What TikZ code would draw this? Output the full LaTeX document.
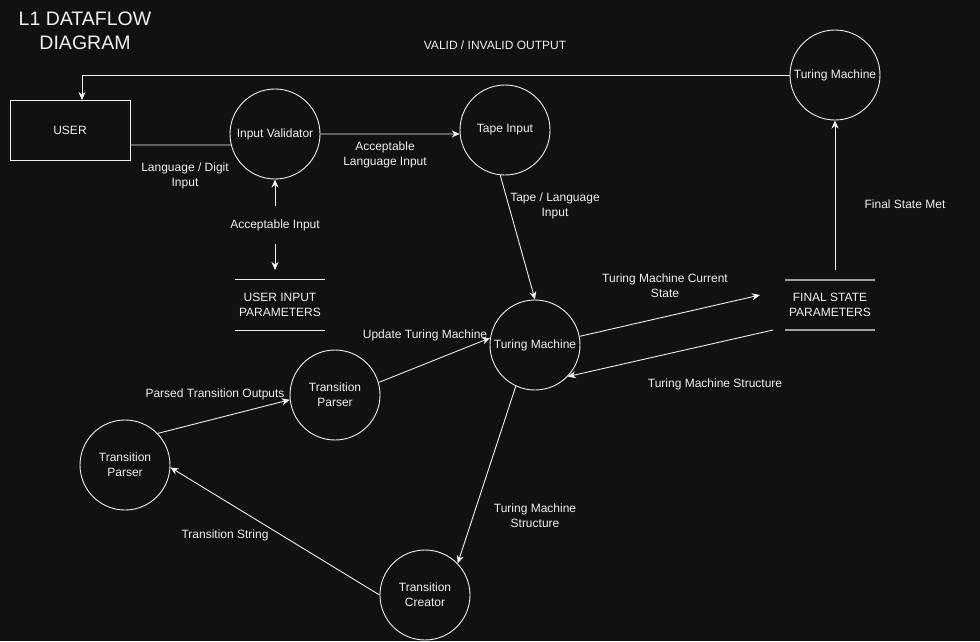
\documentclass[tikz,border=0pt]{standalone}
\usepackage{fontspec}
\setmainfont{Liberation Sans}
\usetikzlibrary{arrows.meta}
\definecolor{bg}{HTML}{111111}
\definecolor{fg}{HTML}{F0F0F0}
\definecolor{storegray}{HTML}{A0A0A0}
\begin{document}
\begin{tikzpicture}[x=1pt,y=-1pt,
  every node/.style={text=fg,font=\fontsize{12}{15}\selectfont,align=center},
  proc/.style={circle,draw=fg,line width=0.9pt,minimum size=90pt,inner sep=0pt},
  ent/.style={rectangle,draw=fg,line width=0.9pt,minimum width=120pt,minimum height=60pt,inner sep=0pt},
  store/.style={rectangle,minimum width=90pt,minimum height=50pt,inner sep=0pt},
  flow/.style={draw=fg,line width=0.9pt,-{Stealth[length=8pt,width=7pt,inset=2.5pt]}},
  plain/.style={draw=fg,line width=0.9pt},
  lbl/.style={inner sep=1pt}]
\fill[bg] (0,0) rectangle (980,641);
\useasboundingbox (0,0) rectangle (980,641);

% title
\node[font=\fontsize{19.5}{24}\selectfont] (title) at (85,31) {L1 DATAFLOW\\DIAGRAM};

% entities and processes
\node[ent] (user) at (70,130) {USER};
\node[proc] (iv) at (275,134) {Input Validator};
\node[proc] (tape) at (505,130) {Tape Input};
\node[proc] (tm) at (535,345) {Turing Machine};
\node[proc] (tm2) at (835,75) {Turing Machine};
\node[proc] (tp1) at (335,395) {Transition\\Parser};
\node[proc] (tp2) at (125,465) {Transition\\Parser};
\node[proc] (tc) at (425,595) {Transition\\Creator};

% data stores
\node[store] (uip) at (280,305) {USER INPUT\\PARAMETERS};
\draw[fg,line width=0.9pt] (uip.north west) -- (uip.north east);
\draw[fg,line width=0.9pt] (uip.south west) -- (uip.south east);
\node[store] (fsp) at (830,305) {FINAL STATE\\PARAMETERS};
\draw[storegray,line width=1.8pt] (fsp.north west) -- (fsp.north east);
\draw[storegray,line width=1.8pt] (fsp.south west) -- (fsp.south east);

% helper coordinates
\coordinate (useratop) at (82,100);
\coordinate (fspin) at (760,295);
\coordinate (fspout) at (773,330);
\coordinate (fsptop) at (835,270);
\coordinate (uiptop) at (275,270);

% connectors
\draw[plain] ([yshift=-15pt]user.east) -- (iv.194);
\draw[flow] (iv.east) -- (tape.185);
\draw[flow] (tape.-96) -- (tm.north);
\draw[flow] (tm.11) -- (fspin);
\draw[flow] (fspout) -- (tm.-44);
\draw[flow] (fsptop) -- (tm2.south);
\draw[flow] (tm2.west) -| (useratop);
\draw[flow] (tp1.16) -- (tm.171);
\draw[flow] (tp2.44) -- (tp1.186);
\draw[flow] (tm.-115) -- (tc.44);
\draw[flow] (tc.west) -- (tp2.-3);

\node[lbl,inner ysep=13pt] (accin) at (275,225) {Acceptable Input};
\draw[flow] (accin.north) -- (iv.south);
\draw[flow] (accin.south) -- (uiptop);

% labels
\node[lbl] (l1) at (495,45) {VALID / INVALID OUTPUT};
\node[lbl] (l2) at (185,175.5) {Language / Digit\\Input};
\node[lbl] (l3) at (385,155) {Acceptable\\Language Input};
\node[lbl] (l4) at (555,205.5) {Tape / Language\\Input};
\node[lbl] (l5) at (425,335) {Update Turing Machine};
\node[lbl] (l6) at (665,285.5) {Turing Machine Current\\State};
\node[lbl] (l7) at (715,384.5) {Turing Machine Structure};
\node[lbl] (l8) at (905,204.5) {Final State Met};
\node[lbl] (l9) at (215,394.5) {Parsed Transition Outputs};
\node[lbl] (l10) at (535,515.5) {Turing Machine\\Structure};
\node[lbl] (l11) at (225,535) {Transition String};
\end{tikzpicture}
\end{document}
